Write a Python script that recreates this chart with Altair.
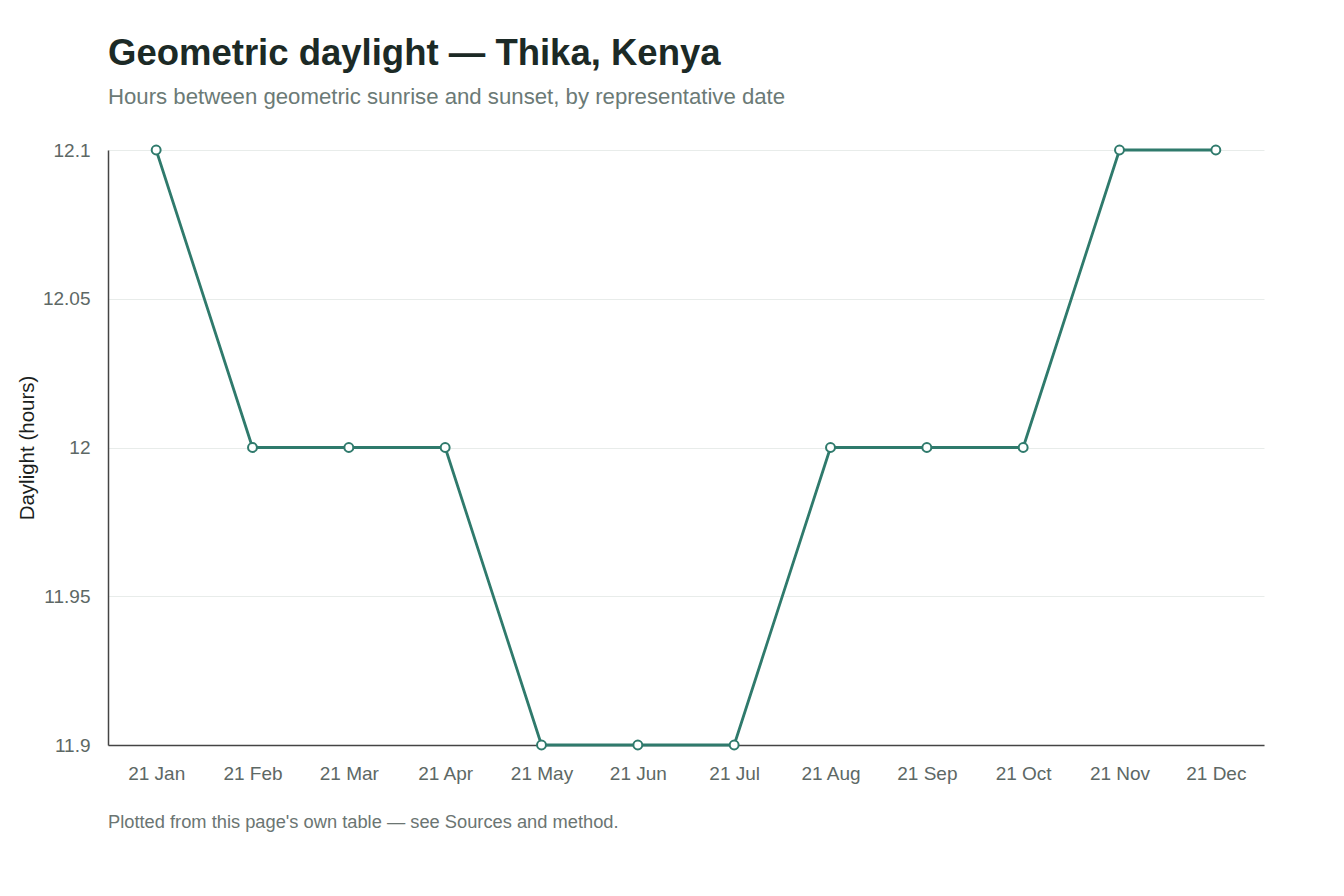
import pandas as pd
import altair as alt

# representative dates and geometric daylight (hours)
dates = ["21 Jan", "21 Feb", "21 Mar", "21 Apr", "21 May", "21 Jun",
         "21 Jul", "21 Aug", "21 Sep", "21 Oct", "21 Nov", "21 Dec"]
daylight = [12.1, 12.0, 12.0, 12.0, 11.9, 11.9, 11.9, 12.0, 12.0, 12.0, 12.1, 12.1]
y_ticks = [11.9, 11.95, 12.0, 12.05, 12.1]

df = pd.DataFrame({"date": dates, "hours": daylight})

FONT = "Liberation Sans"
TEAL = "#2f7a6c"
W, H = 1156, 595

x = alt.X("date:N", sort=dates, title=None,
          scale=alt.Scale(type="point", padding=0.5),
          axis=alt.Axis(labelAngle=0, labelPadding=19, ticks=False,
                        domainColor="#444", domainWidth=1.5, grid=False))
y = alt.Y("hours:Q", title="Daylight (hours)",
          scale=alt.Scale(domain=[11.9, 12.1], nice=False, zero=False),
          axis=alt.Axis(values=y_ticks, format="~g", ticks=False, labelPadding=18,
                        domainColor="#444", domainWidth=1.5,
                        gridColor="#e8ecea", titlePadding=5,
                        titleFontWeight="normal", titleColor="#1b1f1e",
                        titleFontSize=20.5))

base = alt.Chart(df)
line = base.mark_line(color=TEAL, strokeWidth=2.8).encode(x=x, y=y)
pts = base.mark_point(filled=True, fill="white", stroke=TEAL, strokeWidth=2,
                      size=80, opacity=1).encode(x=x, y=y)

footer = alt.Chart(pd.DataFrame({"t": ["Plotted from this page's own table \u2014 see Sources and method."]})).mark_text(
    align="left", baseline="middle", fontSize=18.3, color="#6b7572", font=FONT
).encode(text="t:N", x=alt.value(0), y=alt.value(H + 78))

chart = alt.layer(line, pts, footer).properties(
    width=W, height=H,
    padding={"top": 28, "left": 9, "right": 5, "bottom": 5},
    title=alt.TitleParams(
        "Geometric daylight \u2014 Thika, Kenya",
        subtitle="Hours between geometric sunrise and sunset, by representative date",
        anchor="start", frame="group", fontSize=36.5, fontWeight=600,
        color="#1c2a26", subtitleFontSize=22.2, subtitleColor="#6b7a76",
        subtitlePadding=13, offset=33, font=FONT, subtitleFont=FONT,
    ),
).configure_axis(
    labelFont=FONT, titleFont=FONT, labelFontSize=19, labelColor="#5d6865"
).configure_view(stroke=None)

chart.save("out.html", embed_options={"renderer": "svg", "actions": False})
